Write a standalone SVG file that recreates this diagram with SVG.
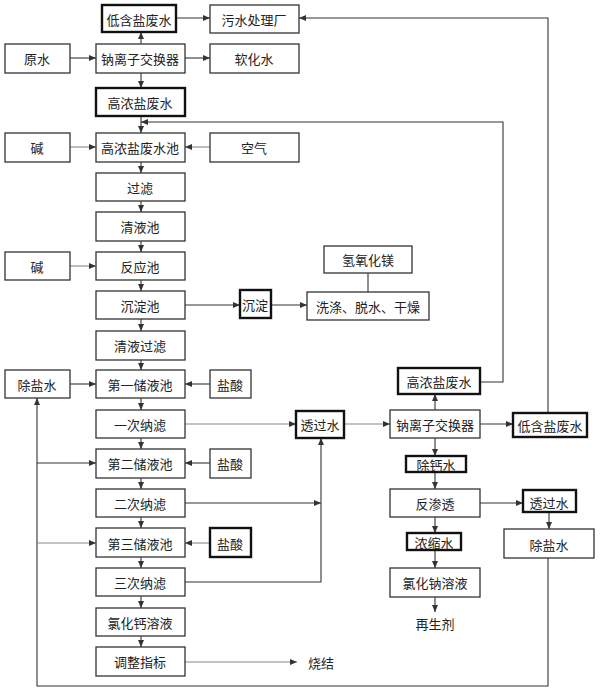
<svg xmlns="http://www.w3.org/2000/svg" width="600" height="692" viewBox="0 0 600 692">
<defs>
<marker id="a" markerWidth="8" markerHeight="6" refX="7" refY="3" orient="auto" markerUnits="userSpaceOnUse"><path d="M0,0 L7,3 L0,6 Z" fill="#333"/></marker>
<style>
rect{fill:#fff;stroke:#333;stroke-width:1.3}
rect.b{stroke:#111;stroke-width:2.4}
text{font-family:"Noto Sans CJK SC","Noto Sans CJK JP",sans-serif;font-size:13px;fill:#222;text-anchor:middle;dominant-baseline:central}
.c path{fill:none;stroke:#333;stroke-width:1.1}
.c path.l{stroke:#888}
</style>
</defs>
<rect x="0" y="0" width="600" height="692" style="fill:#fff;stroke:none"/>
<g class="c">
<path d="M141,44 V32" marker-end="url(#a)"/>
<path d="M176,18 H210" marker-end="url(#a)"/>
<path d="M70,58 H96" marker-end="url(#a)"/>
<path d="M185,58 H210" marker-end="url(#a)"/>
<path d="M141,73 V88" marker-end="url(#a)"/>
<path d="M141,116 V133" marker-end="url(#a)"/>
<path d="M480,382 H503 V122 H141" marker-end="url(#a)"/>
<path class="l" d="M70,147 H96" marker-end="url(#a)"/>
<path class="l" d="M210,147 H185" marker-end="url(#a)"/>
<path d="M141,162 V173" marker-end="url(#a)"/>
<path d="M141,201 V212" marker-end="url(#a)"/>
<path d="M141,241 V252" marker-end="url(#a)"/>
<path class="l" d="M70,266 H96" marker-end="url(#a)"/>
<path d="M141,280 V291" marker-end="url(#a)"/>
<path d="M185,305 H240" marker-end="url(#a)"/>
<path d="M271,305 H307" marker-end="url(#a)"/>
<path d="M368,292 V273"/>
<path d="M141,319 V331" marker-end="url(#a)"/>
<path d="M141,360 V370" marker-end="url(#a)"/>
<path d="M70,384 H96" marker-end="url(#a)"/>
<path d="M210,384 H185" marker-end="url(#a)"/>
<path d="M141,398 V410" marker-end="url(#a)"/>
<path class="l" d="M185,424 H296" marker-end="url(#a)"/>
<path d="M141,438 V449" marker-end="url(#a)"/>
<path d="M210,463 H185" marker-end="url(#a)"/>
<path d="M141,478 V489" marker-end="url(#a)"/>
<path d="M185,503 H321" marker-end="url(#a)"/>
<path d="M141,517 V528" marker-end="url(#a)"/>
<path class="l" d="M210,543 H185" marker-end="url(#a)"/>
<path d="M141,557 V568" marker-end="url(#a)"/>
<path d="M185,582 H321 V438" marker-end="url(#a)"/>
<path d="M141,596 V608" marker-end="url(#a)"/>
<path d="M141,636 V647" marker-end="url(#a)"/>
<path class="l" d="M185,662 H297" marker-end="url(#a)"/>
<path d="M548,558 V686 H37 V398" marker-end="url(#a)"/>
<path d="M37,463 H96" marker-end="url(#a)"/>
<path class="l" d="M37,543 H96" marker-end="url(#a)"/>
<path class="l" d="M344,424 H390" marker-end="url(#a)"/>
<path d="M480,424 H513" marker-end="url(#a)"/>
<path d="M548,413 V18 H299" marker-end="url(#a)"/>
<path d="M435,410 V394" marker-end="url(#a)"/>
<path d="M435,438 V456" marker-end="url(#a)"/>
<path d="M435,472 V489" marker-end="url(#a)"/>
<path d="M480,503 H523" marker-end="url(#a)"/>
<path d="M549,512 V529" marker-end="url(#a)"/>
<path d="M435,517 V533" marker-end="url(#a)"/>
<path d="M435,550 V568" marker-end="url(#a)"/>
<path d="M435,597 V612" marker-end="url(#a)"/>
</g>
<g id="n1"><rect class="b" x="102" y="5" width="74" height="27"/><text x="139" y="19">低含盐废水</text></g>
<g id="n2"><rect x="210" y="5" width="89" height="28"/><text x="254" y="19">污水处理厂</text></g>
<g id="n3"><rect x="5" y="44" width="65" height="29"/><text x="37" y="58">原水</text></g>
<g id="n4"><rect x="96" y="44" width="89" height="29"/><text x="140" y="58">钠离子交换器</text></g>
<g id="n5"><rect x="210" y="44" width="89" height="29"/><text x="254" y="58">软化水</text></g>
<g id="n6"><rect class="b" x="96" y="88" width="89" height="28"/><text x="140" y="102">高浓盐废水</text></g>
<g id="n7"><rect x="5" y="133" width="65" height="29"/><text x="37" y="147">碱</text></g>
<g id="n8"><rect x="96" y="133" width="89" height="29"/><text x="140" y="147">高浓盐废水池</text></g>
<g id="n9"><rect x="210" y="133" width="89" height="29"/><text x="254" y="147">空气</text></g>
<g id="n10"><rect x="96" y="173" width="89" height="28"/><text x="140" y="187">过滤</text></g>
<g id="n11"><rect x="96" y="212" width="89" height="29"/><text x="140" y="226">清液池</text></g>
<g id="n12"><rect x="5" y="252" width="65" height="28"/><text x="37" y="266">碱</text></g>
<g id="n13"><rect x="96" y="252" width="89" height="28"/><text x="140" y="266">反应池</text></g>
<g id="n14"><rect x="96" y="291" width="89" height="28"/><text x="140" y="305">沉淀池</text></g>
<g id="n15"><rect class="b" x="240" y="290" width="31" height="28"/><text x="255" y="304">沉淀</text></g>
<g id="n16"><rect x="307" y="292" width="122" height="28"/><text x="368" y="306">洗涤、脱水、干燥</text></g>
<g id="n17"><rect x="324" y="246" width="88" height="27"/><text x="368" y="259">氢氧化镁</text></g>
<g id="n18"><rect x="96" y="331" width="89" height="29"/><text x="140" y="345">清液过滤</text></g>
<g id="n19"><rect x="5" y="370" width="65" height="28"/><text x="37" y="384">除盐水</text></g>
<g id="n20"><rect x="96" y="370" width="89" height="28"/><text x="140" y="384">第一储液池</text></g>
<g id="n21"><rect x="210" y="370" width="41" height="28"/><text x="230" y="384">盐酸</text></g>
<g id="n22"><rect x="96" y="410" width="89" height="28"/><text x="140" y="424">一次纳滤</text></g>
<g id="n23"><rect class="b" x="296" y="411" width="48" height="27"/><text x="320" y="424">透过水</text></g>
<g id="n24"><rect x="96" y="449" width="89" height="29"/><text x="140" y="463">第二储液池</text></g>
<g id="n25"><rect x="210" y="449" width="41" height="29"/><text x="230" y="463">盐酸</text></g>
<g id="n26"><rect x="96" y="489" width="89" height="28"/><text x="140" y="503">二次纳滤</text></g>
<g id="n27"><rect x="96" y="528" width="89" height="29"/><text x="140" y="543">第三储液池</text></g>
<g id="n28"><rect class="b" x="210" y="528" width="41" height="29"/><text x="230" y="543">盐酸</text></g>
<g id="n29"><rect x="96" y="568" width="89" height="28"/><text x="140" y="582">三次纳滤</text></g>
<g id="n30"><rect x="96" y="608" width="89" height="28"/><text x="140" y="622">氯化钙溶液</text></g>
<g id="n31"><rect x="96" y="647" width="89" height="29"/><text x="140" y="661">调整指标</text></g>
<g id="n32"><text x="321" y="662">烧结</text></g>
<g id="n33"><rect class="b" x="398" y="368" width="82" height="26"/><text x="439" y="381">高浓盐废水</text></g>
<g id="n34"><rect x="390" y="410" width="90" height="28"/><text x="435" y="424">钠离子交换器</text></g>
<g id="n35"><rect class="b" x="513" y="413" width="74" height="24"/><text x="550" y="425">低含盐废水</text></g>
<g id="n36"><rect class="b" x="406" y="456" width="60" height="16"/><text x="436" y="464">除钙水</text></g>
<g id="n37"><rect x="390" y="489" width="90" height="28"/><text x="435" y="503">反渗透</text></g>
<g id="n38"><rect class="b" x="523" y="490" width="53" height="22"/><text x="549" y="502">透过水</text></g>
<g id="n39"><rect class="b" x="407" y="533" width="54" height="17"/><text x="434" y="542">浓缩水</text></g>
<g id="n40"><rect x="504" y="529" width="90" height="29"/><text x="549" y="544">除盐水</text></g>
<g id="n41"><rect x="390" y="568" width="90" height="29"/><text x="435" y="582">氯化钠溶液</text></g>
<g id="n42"><text x="435" y="623">再生剂</text></g>
</svg>
